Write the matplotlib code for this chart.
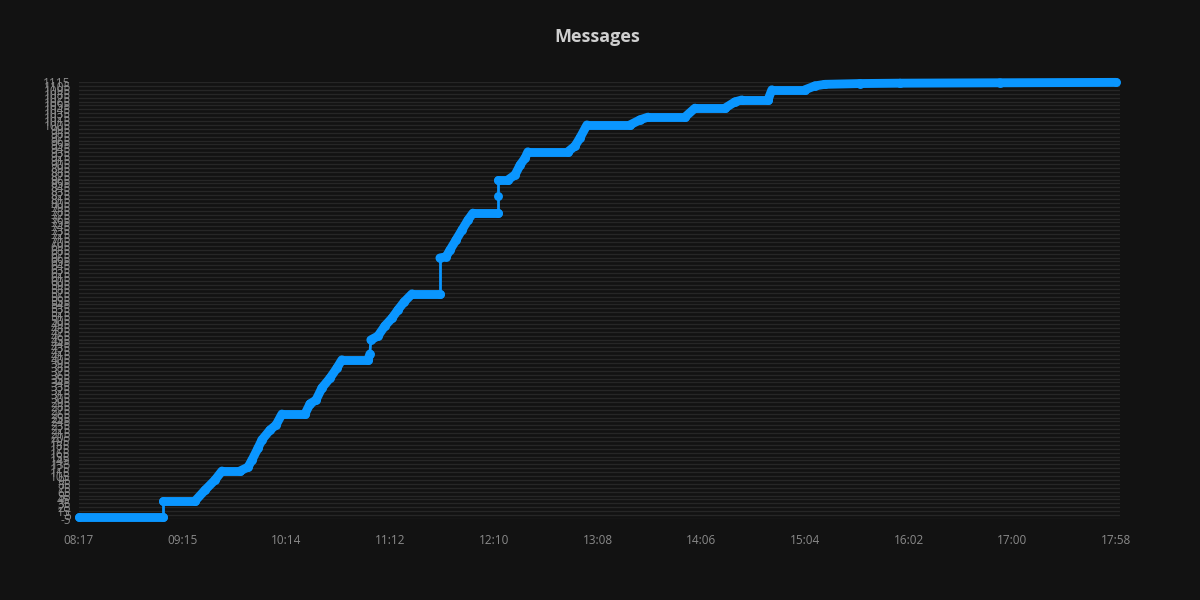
import matplotlib
matplotlib.use("Agg")
import matplotlib.pyplot as plt
import numpy as np
from matplotlib.collections import LineCollection

# ---- data ----
times = ["08:17:00", "09:04:06", "09:04:06", "09:22:00", "09:27:36", "09:33:12", "09:37:06",
         "09:47:12", "09:51:42", "09:53:54", "09:57:18", "09:59:30", "10:04:00", "10:07:24",
         "10:10:42", "10:23:36", "10:26:24", "10:29:48", "10:33:06", "10:37:36", "10:41:30",
         "10:44:18", "10:58:54", "11:00:00", "11:00:30", "11:04:30", "11:08:24", "11:12:24",
         "11:15:42", "11:19:06", "11:23:36", "11:39:12", "11:39:12", "11:42:36", "11:44:48",
         "11:48:12", "11:51:36", "11:54:54", "11:57:42", "12:11:42", "12:11:42", "12:11:42",
         "12:17:18", "12:21:18", "12:24:06", "12:26:54", "12:28:30", "12:50:54", "12:54:54",
         "12:57:42", "13:01:36", "13:25:42", "13:31:18", "13:35:48", "13:56:30", "14:02:06",
         "14:18:54", "14:24:30", "14:28:24", "14:43:00", "14:45:12", "15:03:42", "15:09:18",
         "15:14:54", "15:34:30", "15:57:00", "16:53:00", "17:58:00"]
values = [0, 0, 41, 41, 69, 95, 118,
          118, 128, 146, 177, 198, 223, 236,
          264, 264, 290, 300, 331, 356, 382,
          403, 403, 418, 454, 464, 490, 510,
          531, 551, 572, 572, 664, 667, 684,
          710, 736, 761, 779, 779, 823, 864,
          864, 877, 902, 920, 936, 936, 951,
          972, 1005, 1005, 1018, 1025, 1025, 1048,
          1048, 1064, 1069, 1069, 1095, 1095, 1105,
          1109, 1111, 1112, 1113, 1114]
x_tick_labels = ["08:17", "09:15", "10:14", "11:12", "12:10", "13:08", "14:06",
                 "15:04", "16:02", "17:00", "17:58"]
y_min, y_max, y_step = -5, 1115, 10
title = "Messages"

# ---- helpers ----
def to_min(s):
    parts = [float(p) for p in s.split(":")]
    m = parts[0] * 60 + parts[1]
    if len(parts) > 2:
        m += parts[2] / 60
    return m

t = np.array([to_min(s) for s in times])
v = np.array(values, dtype=float)
t0 = to_min(x_tick_labels[0])
t1 = to_min(x_tick_labels[-1])

BG = "#121212"
LINE = "#0a96ff"
GRID = "#262626"
TICK = "#8a8a8a"

fig = plt.figure(figsize=(12, 6), dpi=100, facecolor=BG)
ax = fig.add_axes([79 / 1200, 1 - 519 / 600, 1041 / 1200, 437 / 600])
ax.set_facecolor(BG)

# segments: thick for normal, thin for vertical jumps
pts = np.column_stack([t, v])
segs = np.stack([pts[:-1], pts[1:]], axis=1)
dt = np.diff(t)
dv = np.diff(v)
widths = np.where((dt < 0.6) & (dv > 10), 2.0, 6.4)
lc = LineCollection(segs, linewidths=widths, colors=LINE, capstyle="round",
                    joinstyle="round", zorder=3, clip_on=False)
ax.add_collection(lc)
ax.plot(t, v, linestyle="none", marker="o", markersize=6.4, markeredgewidth=0,
        color=LINE, zorder=4, clip_on=False)

ax.set_xlim(t0, t0 + (t1 - t0) * 1041 / 1037)
ax.set_ylim(y_min, y_max)

xt = np.linspace(t0, t1, len(x_tick_labels))
ax.set_xticks(xt)
ax.set_xticklabels(x_tick_labels)
yt = np.arange(y_min, y_max + 1, y_step)
ax.set_yticks(yt)
ax.set_yticklabels([str(int(y)) for y in yt])

ax.tick_params(axis="both", length=0, colors=TICK, labelsize=8.5)
ax.tick_params(axis="x", pad=11)
ax.tick_params(axis="y", pad=6)
ax.grid(axis="y", color=GRID, linewidth=1)
ax.grid(axis="x", visible=False)
ax.set_axisbelow(True)
for s in ax.spines.values():
    s.set_visible(False)

for lab in ax.get_xticklabels() + ax.get_yticklabels():
    lab.set_fontfamily("Open Sans")

fig.text(597 / 1200, 1 - 37 / 600, title, ha="center", va="center", color="#cfcfcf",
         fontsize=13, fontweight="bold", fontfamily="Open Sans")

fig.savefig("out.png", dpi=100, facecolor=BG)
